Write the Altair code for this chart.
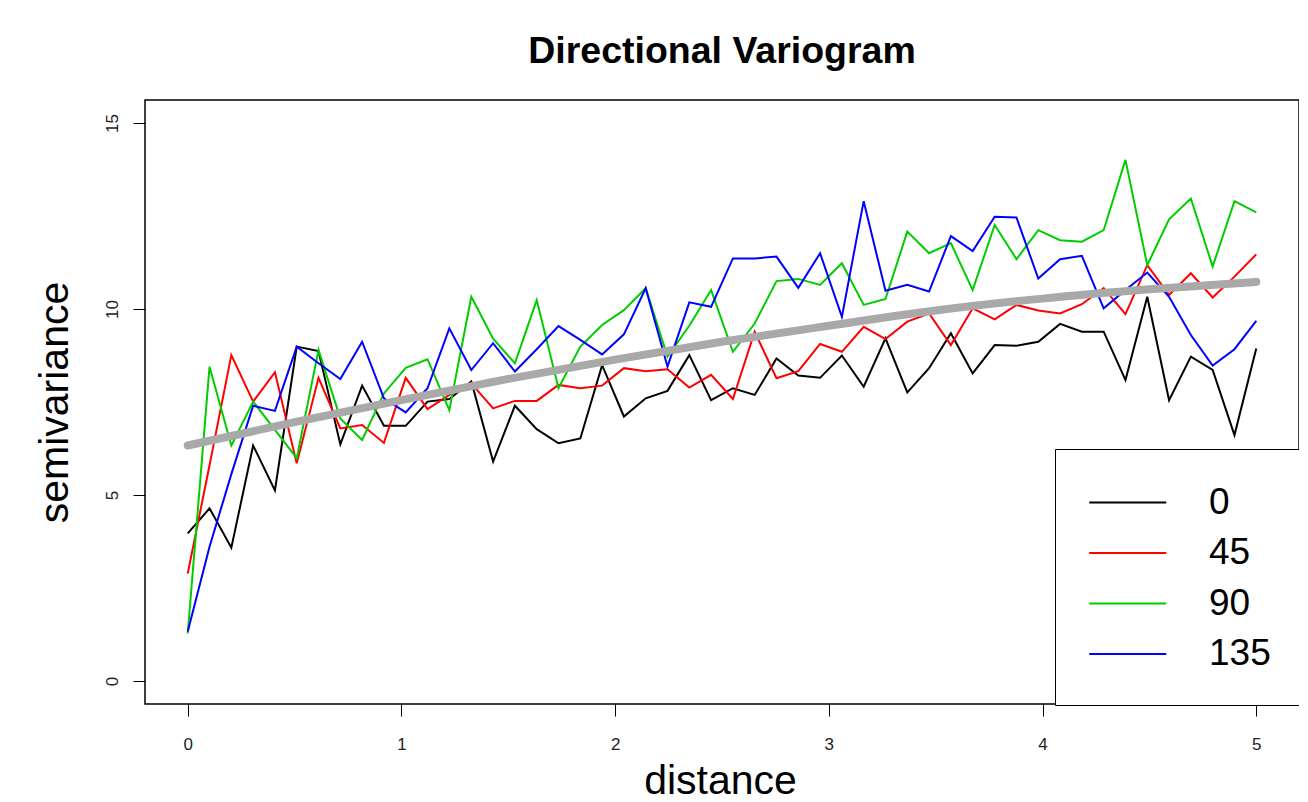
import altair as alt
import pandas as pd

FONT = "Liberation Sans"

# lag distances (bin centres)
distance = [0.0, 0.102, 0.204, 0.306, 0.408, 0.510, 0.612, 0.714, 0.816, 0.918,
            1.020, 1.122, 1.224, 1.327, 1.429, 1.531, 1.633, 1.735, 1.837, 1.939,
            2.041, 2.143, 2.245, 2.347, 2.449, 2.551, 2.653, 2.755, 2.857, 2.959,
            3.061, 3.163, 3.265, 3.367, 3.469, 3.571, 3.673, 3.776, 3.878, 3.980,
            4.082, 4.184, 4.286, 4.388, 4.490, 4.592, 4.694, 4.796, 4.898, 5.0]

# semivariance per direction
dir_0 = [3.97, 4.64, 3.58, 6.33, 5.12, 8.99, 8.87, 6.36, 7.94, 6.86,
         6.86, 7.51, 7.58, 8.05, 5.90, 7.40, 6.77, 6.39, 6.52, 8.49,
         7.11, 7.60, 7.80, 8.76, 7.55, 7.87, 7.69, 8.67, 8.21, 8.15,
         8.75, 7.91, 9.21, 7.76, 8.41, 9.35, 8.27, 9.03, 9.01, 9.12,
         9.60, 9.39, 9.39, 8.09, 10.33, 7.55, 8.72, 8.36, 6.61, 8.94]
dir_45 = [2.89, 5.8, 8.76, 7.51, 8.30, 5.85, 8.15, 6.79, 6.88, 6.40,
          8.15, 7.31, 7.69, 8.00, 7.33, 7.53, 7.53, 7.96, 7.87, 7.94,
          8.41, 8.33, 8.38, 7.89, 8.23, 7.58, 9.39, 8.14, 8.33, 9.06,
          8.85, 9.52, 9.19, 9.66, 9.88, 9.03, 10.02, 9.72, 10.11, 9.96,
          9.88, 10.13, 10.56, 9.86, 11.18, 10.38, 10.96, 10.31, 10.87, 11.47]
dir_90 = [1.28, 8.45, 6.33, 7.51, 6.75, 5.99, 8.90, 7.06, 6.48, 7.73,
          8.42, 8.65, 7.28, 10.33, 9.2, 8.54, 10.24, 7.87, 8.99, 9.57,
          9.97, 10.56, 8.72, 9.55, 10.51, 8.85, 9.61, 10.75, 10.81, 10.65,
          11.23, 10.11, 10.27, 12.08, 11.50, 11.77, 10.51, 12.26, 11.34, 12.12,
          11.85, 11.81, 12.12, 14.01, 11.18, 12.41, 12.97, 11.14, 12.90, 12.60]
dir_135 = [1.33, 3.61, 5.56, 7.40, 7.26, 8.99, 8.54, 8.12, 9.12, 7.60,
           7.22, 7.87, 9.48, 8.36, 9.08, 8.32, 8.92, 9.54, 9.17, 8.78,
           9.32, 10.56, 8.45, 10.18, 10.06, 11.36, 11.36, 11.41, 10.57, 11.50,
           9.79, 12.90, 10.49, 10.65, 10.47, 11.96, 11.56, 12.48, 12.46, 10.82,
           11.34, 11.43, 10.02, 10.51, 10.98, 10.33, 9.30, 8.48, 8.92, 9.68]

directions = ["0", "45", "90", "135"]
colors = ["#000000", "#FF0000", "#00CD00", "#0000FF"]

# fitted model curve
model_distance = [0.0, 0.5, 1.0, 1.5, 2.0, 2.5, 3.0, 3.5, 4.0, 4.5, 5.0]
model_gamma = [6.33, 6.96, 7.55, 8.12, 8.64, 9.12, 9.55, 9.96, 10.28, 10.53, 10.73]

rows = []
for d, series in zip(directions, [dir_0, dir_45, dir_90, dir_135]):
    for x, y in zip(distance, series):
        rows.append({"distance": x, "gamma": y, "direction": d})
df = pd.DataFrame(rows)
model_df = pd.DataFrame({"distance": model_distance, "gamma": model_gamma})

x_scale = alt.Scale(domain=[-0.2, 5.2], nice=False, zero=False)
y_scale = alt.Scale(domain=[-0.62, 15.62], nice=False, zero=False)

x_axis = alt.Axis(
    values=[0, 1, 2, 3, 4, 5], format="d", domain=False, grid=False,
    tickSize=12, tickColor="black", tickWidth=1,
    labelFont=FONT, labelFontSize=17, labelColor="#222222", labelPadding=20,
    title="distance", titleFont=FONT, titleFontSize=41, titleFontWeight="normal",
    titleColor="black", titleX=575, titleY=77, titleBaseline="middle",
)
y_axis = alt.Axis(
    values=[0, 5, 10, 15], format="d", domain=False, grid=False,
    tickSize=12, tickColor="black", tickWidth=1,
    labelFont=FONT, labelFontSize=17, labelColor="#222222", labelPadding=12,
    labelAngle=270, labelAlign="center", labelBaseline="bottom",
    title="semivariance", titleFont=FONT, titleFontSize=41, titleFontWeight="normal",
    titleColor="black", titleAngle=270, titleX=-90, titleY=302,
    titleAlign="center", titleBaseline="middle",
)

lines = alt.Chart(df).mark_line(strokeWidth=2).encode(
    x=alt.X("distance:Q", scale=x_scale, axis=x_axis),
    y=alt.Y("gamma:Q", scale=y_scale, axis=y_axis),
    color=alt.Color(
        "direction:N",
        scale=alt.Scale(domain=directions, range=colors),
        sort=directions,
        legend=alt.Legend(
            title=None, orient="none", legendX=910, legendY=349,
            direction="vertical", symbolType="M-1,0H3", symbolSize=1482,
            symbolStrokeWidth=2, labelFont=FONT, labelFontSize=37,
            labelColor="black", labelOffset=80, rowPadding=11.5, padding=33,
            strokeColor="black", fillColor="white", labelLimit=0,
        ),
    ),
)

model = alt.Chart(model_df).mark_line(
    strokeWidth=8, color="#A9A9A9", strokeCap="round", interpolate="monotone"
).encode(
    x=alt.X("distance:Q", scale=x_scale),
    y=alt.Y("gamma:Q", scale=y_scale),
)

chart = alt.layer(lines, model).properties(
    width=1154,
    height=604,
    title=alt.TitleParams(
        "Directional Variogram", font=FONT, fontSize=37.5, fontWeight="bold",
        color="black", anchor="middle", baseline="alphabetic", offset=0,
    ),
    autosize=alt.AutoSizeParams(type="none"),
    padding={"left": 137, "top": 92, "right": 0, "bottom": 90},
    background="white",
).configure_view(stroke="black", strokeWidth=1.5)

chart.save("out.html", embed_options={"renderer": "svg", "actions": False})
